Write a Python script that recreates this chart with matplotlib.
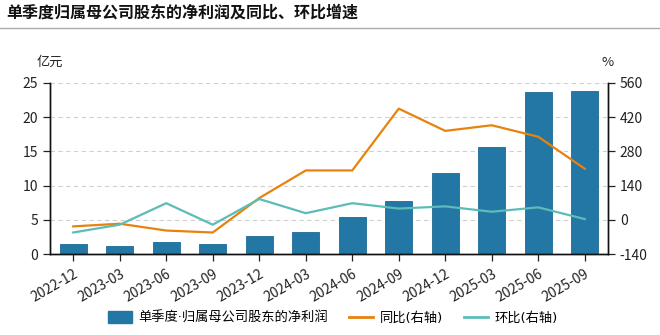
import numpy as np
import matplotlib.pyplot as plt
from matplotlib.lines import Line2D
from matplotlib.patches import Patch

plt.rcParams['font.family'] = ['Noto Sans CJK SC', 'DejaVu Sans']
plt.rcParams['axes.unicode_minus'] = False

# data
quarters = ['2022-12', '2023-03', '2023-06', '2023-09', '2023-12', '2024-03',
            '2024-06', '2024-09', '2024-12', '2025-03', '2025-06', '2025-09']
profit = [1.4, 1.1, 1.8, 1.4, 2.6, 3.2, 5.4, 7.8, 11.9, 15.7, 23.7, 23.9]
yoy = [-27, -16, -44, -52, 89, 202, 202, 455, 364, 387, 340, 209]
qoq = [-52, -20, 68, -20, 85, 27, 68, 46, 55, 33, 51, 3]

BAR_C = '#2277a5'
YOY_C = '#e8820e'
QOQ_C = '#5bbcb8'

fig = plt.figure(figsize=(6.6, 3.35), dpi=100)
ax = fig.add_axes([50 / 660, 1 - 254 / 335, 558 / 660, 171 / 335])
ax2 = ax.twinx()

x = np.arange(len(quarters))
ax.bar(x, profit, width=0.58, color=BAR_C, edgecolor='#1d6a94', linewidth=0.6, zorder=2)
ax.set_xlim(-0.5, len(quarters) - 0.5)
ax.set_ylim(0, 25)
ax.set_yticks([0, 5, 10, 15, 20, 25])
ax.grid(axis='y', color='#d0d0d0', linestyle=(0, (4, 3)), linewidth=0.8, zorder=0)

ax2.plot(x, yoy, color=YOY_C, linewidth=1.6, zorder=3)
ax2.plot(x, qoq, color=QOQ_C, linewidth=1.6, zorder=3)
ax2.set_ylim(-140, 560)
ax2.set_yticks([-140, 0, 140, 280, 420, 560])

ax.set_xticks(x)
ax.set_xticklabels(quarters, rotation=30, ha='right', rotation_mode='anchor')

for a in (ax, ax2):
    a.spines['top'].set_visible(False)
    for s in ('left', 'right', 'bottom'):
        a.spines[s].set_color('#111111')
        a.spines[s].set_linewidth(1.0)
    a.tick_params(labelsize=10, colors='#222222', length=5, width=0.9)
ax.tick_params(axis='x', pad=4)
ax.set_zorder(ax2.get_zorder() - 1)
ax.patch.set_visible(False)
ax2.patch.set_visible(False)

fig.text(50 / 660, 1 - 62 / 335, '亿元', ha='center', va='center', fontsize=9.5, color='#222222')
fig.text(608 / 660, 1 - 62 / 335, '%', ha='center', va='center', fontsize=9.5, color='#222222')

fig.text(6 / 660, 1 - 13 / 335, '单季度归属母公司股东的净利润及同比、环比增速',
         ha='left', va='center', fontsize=11.5, fontweight='bold', color='#111111')
fig.add_artist(Line2D([0, 1], [1 - 28 / 335, 1 - 28 / 335], color='#aaaaaa', linewidth=1.0))

handles = [Patch(facecolor=BAR_C, edgecolor=BAR_C),
           Line2D([], [], color=YOY_C, linewidth=2),
           Line2D([], [], color=QOQ_C, linewidth=2)]
labels = ['单季度·归属母公司股东的净利润', '同比(右轴)', '环比(右轴)']
fig.legend(handles, labels, loc='center', bbox_to_anchor=(333 / 660, 1 - 318 / 335),
           ncol=3, frameon=False, handlelength=1.8, handleheight=1.0,
           columnspacing=1.6, handletextpad=0.5,
           prop={'family': ['DejaVu Sans', 'Noto Sans CJK SC'], 'size': 9.5})

fig.savefig('out.png', dpi=100)
